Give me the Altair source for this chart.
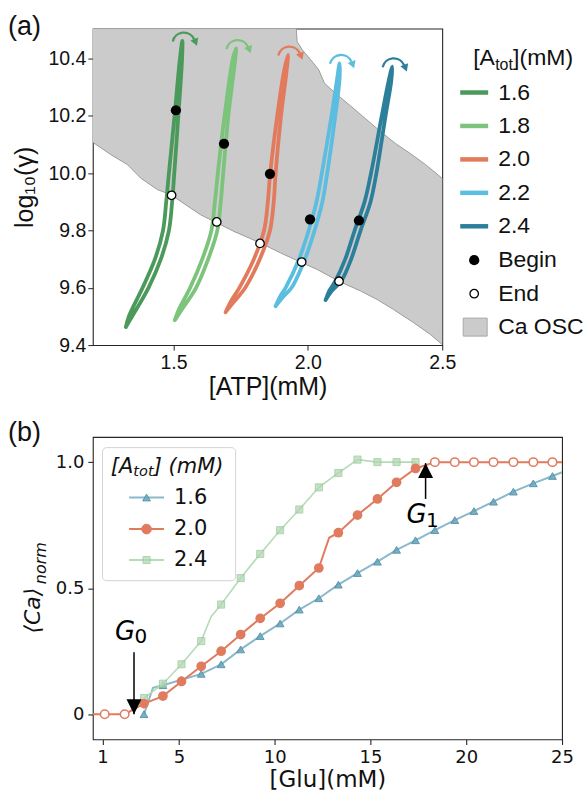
import altair as alt
import numpy as np
import pandas as pd

# ---------------- panel (a): loops in the ([ATP], log10 gamma) plane ----------------
ATOT_A = ["1.6", "1.8", "2.0", "2.2", "2.4"]
COLOR_A = ["#4c9a5b", "#7cc47c", "#e27b5e", "#5bbde0", "#2c7f9a"]

# log10(gamma) levels of each loop, ATP on the rising strand (UP) and falling strand (DN)
LG_16 = [9.463, 9.50, 9.60, 9.70, 9.80, 9.90, 10.00, 10.20, 10.40, 10.462]
UP_16 = [1.323, 1.334, 1.385, 1.431, 1.461, 1.473, 1.483, 1.504, 1.524, 1.533]
DN_16 = [1.323, 1.346, 1.407, 1.453, 1.483, 1.495, 1.503, 1.518, 1.532, 1.533]

LG_18 = [9.487, 9.52, 9.60, 9.70, 9.80, 9.90, 10.00, 10.20, 10.40, 10.436]
UP_18 = [1.505, 1.518, 1.562, 1.607, 1.641, 1.654, 1.665, 1.690, 1.721, 1.733]
DN_18 = [1.505, 1.528, 1.584, 1.629, 1.663, 1.676, 1.685, 1.704, 1.730, 1.733]

LG_20 = [9.515, 9.55, 9.60, 9.70, 9.80, 9.90, 10.00, 10.20, 10.35, 10.413]
UP_20 = [1.694, 1.712, 1.745, 1.799, 1.837, 1.851, 1.860, 1.886, 1.910, 1.926]
DN_20 = [1.694, 1.724, 1.767, 1.821, 1.859, 1.873, 1.880, 1.900, 1.920, 1.926]

LG_22 = [9.536, 9.57, 9.60, 9.70, 9.80, 9.90, 10.00, 10.20, 10.33, 10.384]
UP_22 = [1.880, 1.897, 1.917, 1.967, 2.003, 2.032, 2.052, 2.088, 2.109, 2.118]
DN_22 = [1.880, 1.909, 1.939, 1.989, 2.025, 2.054, 2.072, 2.102, 2.118, 2.118]

LG_24 = [9.557, 9.59, 9.623, 9.70, 9.80, 9.90, 10.00, 10.20, 10.32, 10.372]
UP_24 = [2.066, 2.080, 2.102, 2.139, 2.174, 2.211, 2.235, 2.275, 2.300, 2.314]
DN_24 = [2.066, 2.090, 2.124, 2.161, 2.196, 2.233, 2.255, 2.289, 2.310, 2.314]

BEGIN_ATP = [1.509, 1.688, 1.859, 2.008, 2.190]
BEGIN_LG = [10.220, 10.103, 9.998, 9.839, 9.835]
END_ATP = [1.493, 1.661, 1.822, 1.977, 2.116]
END_LG = [9.923, 9.830, 9.755, 9.690, 9.623]

# oscillatory region: lower and upper borders
LOW_ATP = [1.200, 1.267, 1.329, 1.378, 1.440, 1.490, 1.601, 1.725, 1.822, 1.898,
           1.979, 2.035, 2.115, 2.196, 2.258, 2.319, 2.394, 2.456, 2.500]
LOW_LG = [10.108, 10.065, 10.030, 9.983, 9.943, 9.925, 9.855, 9.797, 9.757, 9.722,
          9.687, 9.664, 9.623, 9.589, 9.559, 9.524, 9.478, 9.437, 9.402]
HIGH_ATP = [1.200, 1.957, 1.960, 1.980, 2.010, 2.040, 2.062, 2.103, 2.158, 2.214,
            2.270, 2.326, 2.381, 2.437, 2.500]
HIGH_LG = [10.505, 10.505, 10.460, 10.430, 10.397, 10.362, 10.314, 10.279, 10.236, 10.191,
           10.146, 10.104, 10.069, 10.031, 9.982]

A_XDOM = [1.2, 2.5]
A_YDOM = [9.4, 10.505]

# ---------------- panel (b): normalised Ca vs glucose ----------------
GLU = [1.12, 2.16, 3.17, 4.16, 5.13, 6.16, 7.20, 8.22, 9.24, 10.28, 11.28, 12.30,
       13.32, 14.32, 15.36, 16.36, 17.35, 18.36, 19.40, 20.40, 21.42, 22.46, 23.50, 24.50]
CA_16 = [0.0, 0.115, 0.137, 0.160, 0.198, 0.257, 0.310, 0.360, 0.415, 0.460, 0.514,
         0.560, 0.605, 0.652, 0.690, 0.730, 0.770, 0.806, 0.843, 0.883, 0.916, 0.945]
CA_20 = [0.0, 0.0, 0.042, 0.072, 0.130, 0.190, 0.250, 0.316, 0.380, 0.440, 0.510, 0.580,
         0.720, 0.790, 0.854, 0.920, 0.975, 1.0, 1.0, 1.0, 1.0, 1.0, 1.0, 1.0]
CA_24 = [0.064, 0.121, 0.198, 0.290, 0.435, 0.540, 0.636, 0.730, 0.812, 0.900, 0.957,
         1.010, 1.0, 1.0, 1.0]
# extra vertices of the connecting curves (no marker drawn there)
BEND16_GLU, BEND16_CA = [3.64, 25.5], [0.105, 0.975]
BEND20_GLU, BEND20_CA = [0.08, 12.84, 25.5], [0.0, 0.70, 1.0]
BEND24_GLU, BEND24_CA = [6.68], [0.388]

G_LABEL = ["0", "1"]
G_GLU = [2.65, 17.875]
G_TAIL = [0.246, 0.854]
G_TIP = [0.0, 0.996]
G_TEXT_CA = [0.2945, 0.757]

B_XDOM = [0.5, 25]
B_YDOM = [-0.1, 1.1]

SANS_A = "Liberation Sans"
SANS_B = "DejaVu Sans"
INK = "#111111"
ONE = pd.DataFrame({"n": [0]})


def loop_frame(label, lg, up, dn):
    pts = list(zip(up, lg)) + list(zip(dn[-2::-1], lg[-2::-1]))
    return pd.DataFrame({"atot": label, "k": range(len(pts)),
                         "atp": [p[0] for p in pts], "lg": [p[1] for p in pts]})


def note(text, x, y, size, font, align="left", baseline="middle", style="normal",
         angle=None, color=INK):
    kw = dict(text=text, align=align, baseline=baseline, fontSize=size, font=font,
              color=color, fontStyle=style)
    if angle is not None:
        kw["angle"] = angle
    return alt.Chart(ONE).mark_text(**kw).encode(x=alt.value(x), y=alt.value(y))


# ---------- panel (a) data ----------
loops = pd.concat([
    loop_frame("1.6", LG_16, UP_16, DN_16),
    loop_frame("1.8", LG_18, UP_18, DN_18),
    loop_frame("2.0", LG_20, UP_20, DN_20),
    loop_frame("2.2", LG_22, UP_22, DN_22),
    loop_frame("2.4", LG_24, UP_24, DN_24),
], ignore_index=True)
tops = loops.loc[loops.groupby("atot")["lg"].idxmax()].reset_index(drop=True)

xs = np.unique(np.concatenate([LOW_ATP, HIGH_ATP]))
region = pd.DataFrame({"atp": xs,
                       "lo": np.interp(xs, LOW_ATP, LOW_LG),
                       "hi": np.interp(xs, HIGH_ATP, HIGH_LG)})
edges = pd.concat([
    pd.DataFrame({"edge": "low", "k": range(len(LOW_ATP)), "atp": LOW_ATP, "lg": LOW_LG}),
    pd.DataFrame({"edge": "high", "k": range(len(HIGH_ATP) - 1),
                  "atp": HIGH_ATP[1:], "lg": HIGH_LG[1:]}),
], ignore_index=True)
begins = pd.DataFrame({"atot": ATOT_A, "atp": BEGIN_ATP, "lg": BEGIN_LG})
ends = pd.DataFrame({"atot": ATOT_A, "atp": END_ATP, "lg": END_LG})

axis_a = dict(labelFont=SANS_A, labelFontSize=19.5, labelColor=INK, titleFont=SANS_A,
              titleFontSize=25, titleFontWeight="normal", titleColor=INK, tickSize=5,
              tickColor="#222222", tickWidth=1, domain=False, grid=False,
              labelFlush=False, labelOverlap=False)
XA = alt.X("atp:Q", scale=alt.Scale(domain=A_XDOM, nice=False, zero=False),
           axis=alt.Axis(values=[1.5, 2.0, 2.5], format=".1f", title="[ATP](mM)",
                         labelPadding=3, titlePadding=3, **axis_a))
ya_axis = alt.Axis(values=[9.4, 9.6, 9.8, 10.0, 10.2, 10.4], format=".1f", title="log₁₀(γ)",
                   labelPadding=2, titlePadding=10, **axis_a)
ya_scale = alt.Scale(domain=A_YDOM, nice=False, zero=False)
YA = alt.Y("lg:Q", scale=ya_scale, axis=ya_axis)
CA = alt.Color("atot:N", scale=alt.Scale(domain=ATOT_A, range=COLOR_A), legend=None)

a_layers = [
    alt.Chart(region).mark_area(color="#cbcbcb").encode(
        x=XA, y=alt.Y("lo:Q", scale=ya_scale, axis=ya_axis), y2="hi:Q"),
    alt.Chart(edges).mark_line(color="#9c9c9c", strokeWidth=1).encode(
        x=XA, y=YA, detail="edge:N", order="k:Q"),
    alt.Chart(loops).mark_line(strokeWidth=3.8, strokeCap="round", strokeJoin="round",
                               interpolate="catmull-rom").encode(
        x=XA, y=YA, color=CA, detail="atot:N", order="k:Q"),
    # direction arrows above each loop
    alt.Chart(tops).mark_arc(radius=12.5, radius2=10.2, theta=4.93, theta2=7.45,
                             xOffset=1.5, yOffset=3).encode(x=XA, y=YA, color=CA),
    alt.Chart(tops).mark_point(shape="triangle-down", filled=True, size=70, angle=339,
                               opacity=1, xOffset=13.3, yOffset=1.5, strokeWidth=0).encode(
        x=XA, y=YA, color=CA),
    alt.Chart(begins).mark_point(shape="circle", filled=True, size=105, color="black",
                                 opacity=1, strokeWidth=0).encode(x=XA, y=YA),
    alt.Chart(ends).mark_point(shape="circle", filled=True, size=72, fill="white",
                               stroke="black", strokeWidth=1.3, opacity=1).encode(x=XA, y=YA),
]

# legend of panel (a)
LEG_A_ROWS = [64, 97.5, 131, 164.5, 198]
a_layers += [
    note("[A", 381, 36, 23, SANS_A, baseline="alphabetic"),
    note("tot", 403, 41, 16, SANS_A, baseline="alphabetic"),
    note("](mM)", 421, 36, 23, SANS_A, baseline="alphabetic"),
]
for lab, col, yy in zip(ATOT_A, COLOR_A, LEG_A_ROWS):
    a_layers.append(alt.Chart(ONE).mark_rule(color=col, strokeWidth=4.5).encode(
        x=alt.value(368), x2=alt.value(396), y=alt.value(yy)))
    a_layers.append(note(lab, 406, yy, 23, SANS_A))
a_layers += [
    alt.Chart(ONE).mark_point(shape="circle", filled=True, size=105, color="black",
                              opacity=1, strokeWidth=0).encode(x=alt.value(382), y=alt.value(232)),
    note("Begin", 406, 232, 23, SANS_A),
    alt.Chart(ONE).mark_point(shape="circle", filled=True, size=72, fill="white",
                              stroke="black", strokeWidth=1.3, opacity=1).encode(
        x=alt.value(382), y=alt.value(265.5)),
    note("End", 406, 265.5, 23, SANS_A),
    alt.Chart(ONE).mark_rect(fill="#cbcbcb", stroke="#a8a8a8", strokeWidth=1).encode(
        x=alt.value(371), x2=alt.value(395), y=alt.value(290), y2=alt.value(308)),
    note("Ca OSC", 406, 299, 23, SANS_A),
    note("(a)", -85, 6, 27, SANS_A, baseline="alphabetic"),
    # fixes the top-left corner of the whole figure
    alt.Chart(ONE).mark_point(size=1, opacity=0, filled=True, strokeWidth=0).encode(
        x=alt.value(-91.5), y=alt.value(-26.5)),
]
panel_a = alt.layer(*a_layers).properties(width=350, height=317)

# ---------- panel (b) data ----------
def series_line(label, glu, ca, bend_glu, bend_ca):
    df = pd.DataFrame({"s": label, "glu": list(glu) + bend_glu, "ca": list(ca) + bend_ca})
    return df.sort_values("glu").reset_index(drop=True)


line16 = series_line("1.6", GLU[2:], CA_16, BEND16_GLU, BEND16_CA)
line20 = series_line("2.0", GLU, CA_20, BEND20_GLU, BEND20_CA)
line24 = series_line("2.4", GLU[2:2 + len(CA_24)], CA_24, BEND24_GLU, BEND24_CA)
pts16 = pd.DataFrame({"glu": GLU[2:], "ca": CA_16})
pts24 = pd.DataFrame({"glu": GLU[2:2 + len(CA_24)], "ca": CA_24})
pts20 = pd.DataFrame({"glu": GLU, "ca": CA_20})
pts20["open"] = (pts20["ca"] <= 0) | (pts20["ca"] >= 1)
ann = pd.DataFrame({"g": G_LABEL, "glu": G_GLU, "ca": G_TAIL, "tip": G_TIP, "txt": G_TEXT_CA})

axis_b = dict(labelFont=SANS_B, labelFontSize=18, labelColor=INK, titleFont=SANS_B,
              titleFontWeight="normal", titleColor=INK, tickSize=5, tickColor="#262626",
              tickWidth=1.1, domain=False, grid=False, labelFlush=False, labelOverlap=False)
xb_scale = alt.Scale(domain=B_XDOM, nice=False, zero=False)
yb_scale = alt.Scale(domain=B_YDOM, nice=False, zero=False)
xb_axis = alt.Axis(values=[1, 5, 10, 15, 20, 25], format="d", title="[Glu](mM)",
                   titleFontSize=23, labelPadding=4, titlePadding=2, **axis_b)
yb_axis = alt.Axis(values=[0, 0.5, 1.0], title=None, labelPadding=4,
                   labelExpr="datum.value == 0 ? '0' : format(datum.value, '.1f')", **axis_b)
XB = alt.X("glu:Q", scale=xb_scale, axis=xb_axis)
YB = alt.Y("ca:Q", scale=yb_scale, axis=yb_axis)

C16_LINE, C16_FILL, C16_EDGE = "#8bb9cc", "#6ea8bc", "#4d8da5"
C20 = "#e07b5f"
C24_LINE, C24_FILL, C24_EDGE = "#b7dab7", "#b3d8b3", "#93c593"

b_layers = [
    alt.Chart(line16).mark_line(color=C16_LINE, strokeWidth=2, clip=True).encode(x=XB, y=YB),
    alt.Chart(pts16).mark_point(shape="triangle-up", filled=True, size=60, fill=C16_FILL,
                                stroke=C16_EDGE, strokeWidth=1, opacity=0.9, clip=True).encode(x=XB, y=YB),
    alt.Chart(line24).mark_line(color=C24_LINE, strokeWidth=1.6, clip=True).encode(x=XB, y=YB),
    alt.Chart(pts24).mark_point(shape="square", filled=True, size=50, fill=C24_FILL,
                                stroke=C24_EDGE, strokeWidth=1, opacity=0.75, clip=True).encode(x=XB, y=YB),
    alt.Chart(line20).mark_line(color=C20, strokeWidth=2, clip=True).encode(x=XB, y=YB),
    alt.Chart(pts20).transform_filter("!datum.open").mark_point(
        shape="circle", filled=True, size=95, color=C20, opacity=1, strokeWidth=0,
        clip=True).encode(x=XB, y=YB),
    alt.Chart(pts20).transform_filter("datum.open").mark_point(
        shape="circle", filled=True, size=72, fill="white", stroke=C20, strokeWidth=1.5,
        opacity=1, clip=True).encode(x=XB, y=YB),
    # G0 / G1 arrows and labels
    alt.Chart(ann).mark_rule(color="black", strokeWidth=1.5).encode(x=XB, y=YB, y2="tip:Q"),
    alt.Chart(ann).transform_filter("datum.g == '0'").mark_point(
        shape="M-0.5,-1L0.5,-1L0,0Z", filled=True, size=900, color="black", opacity=1,
        strokeWidth=0).encode(x=XB, y=alt.Y("tip:Q", scale=yb_scale, axis=yb_axis)),
    alt.Chart(ann).transform_filter("datum.g == '1'").mark_point(
        shape="M-0.5,1L0.5,1L0,0Z", filled=True, size=900, color="black", opacity=1,
        strokeWidth=0).encode(x=XB, y=alt.Y("tip:Q", scale=yb_scale, axis=yb_axis)),
    alt.Chart(ann).mark_text(text="G", font=SANS_B, fontStyle="italic", fontSize=26,
                             align="left", baseline="alphabetic", dx=-19, color="black").encode(
        x=XB, y=alt.Y("txt:Q", scale=yb_scale, axis=yb_axis)),
    alt.Chart(ann).mark_text(font=SANS_B, fontSize=20, align="left", baseline="alphabetic",
                             dx=0.5, dy=3.5, color="black").encode(
        x=XB, y=alt.Y("txt:Q", scale=yb_scale, axis=yb_axis), text="g:N"),
]

# legend of panel (b)
LEG_B_ROWS = [60.7, 92.3, 123.3]
b_layers += [
    alt.Chart(ONE).mark_rect(fill="white", fillOpacity=0.8, stroke="#d3d3d3", strokeWidth=1,
                             cornerRadius=4).encode(
        x=alt.value(9.7), x2=alt.value(143), y=alt.value(10.7), y2=alt.value(144)),
    note("[A", 18, 35.7, 21, SANS_B, baseline="alphabetic", style="italic"),
    note("tot", 40.6, 39.5, 14.5, SANS_B, baseline="alphabetic", style="italic"),
    note("] (mM)", 61, 35.7, 21, SANS_B, baseline="alphabetic", style="italic"),
]
leg_b = [("1.6", C16_LINE, "triangle-up", C16_FILL, C16_EDGE, 60, 0.9),
         ("2.0", C20, "circle", C20, C20, 95, 1.0),
         ("2.4", C24_LINE, "square", C24_FILL, C24_EDGE, 50, 0.75)]
for (lab, lc, shp, fc, ec, sz, op), yy in zip(leg_b, LEG_B_ROWS):
    b_layers.append(alt.Chart(ONE).mark_rule(color=lc, strokeWidth=2).encode(
        x=alt.value(36.3), x2=alt.value(71.3), y=alt.value(yy)))
    b_layers.append(alt.Chart(ONE).mark_point(shape=shp, filled=True, size=sz, fill=fc,
                                              stroke=ec, strokeWidth=1, opacity=op).encode(
        x=alt.value(53.8), y=alt.value(yy)))
    b_layers.append(note(lab, 81.3, yy, 21, SANS_B))

b_layers += [
    note("⟨Ca⟩", -53, 174, 22, SANS_B, align="center", baseline="alphabetic",
         style="italic", angle=270),
    note("norm", -47, 126.5, 16, SANS_B, align="center", baseline="alphabetic",
         style="italic", angle=270),
    note("(b)", -85, 4, 27, SANS_A, baseline="alphabetic"),
]
panel_b = alt.layer(*b_layers).properties(width=470, height=303)

chart = alt.vconcat(panel_a, panel_b, spacing=92, bounds="flush").properties(
    padding=0, background="white"
).configure_view(stroke="#262626", strokeWidth=1.1)

chart.save("out.html", embed_options={"renderer": "svg", "actions": False})
